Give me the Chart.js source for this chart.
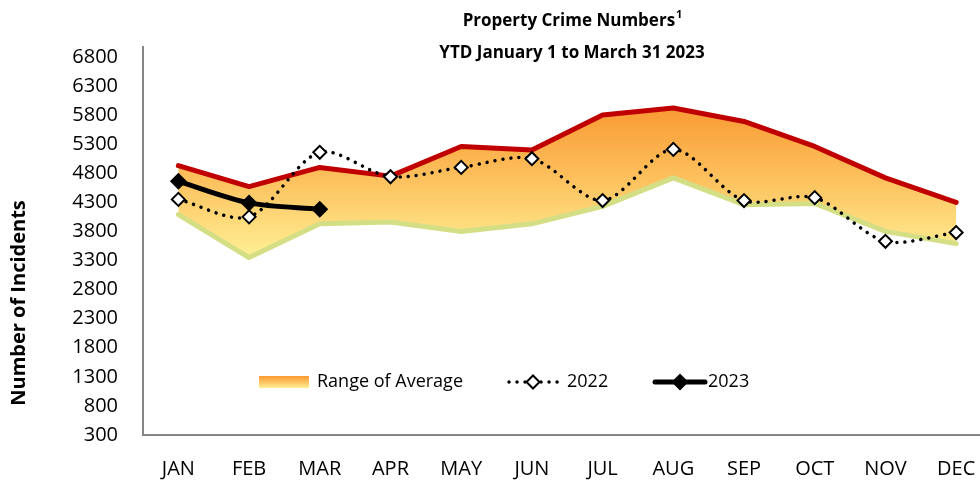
<!DOCTYPE html>
<html>
<head>
<meta charset="utf-8">
<script src="https://cdn.jsdelivr.net/npm/chart.js@4.4.1/dist/chart.umd.min.js"></script>
<style>
  html, body { margin: 0; padding: 0; background: #fff; overflow: hidden; }
  #wrap { position: relative; width: 1000px; height: 481px; }
</style>
</head>
<body>
<div id="wrap"><canvas id="crime-chart"></canvas></div>
<script>
// values
const months = ["JAN", "FEB", "MAR", "APR", "MAY", "JUN", "JUL", "AUG", "SEP", "OCT", "NOV", "DEC"];
const rangeUpper = [4930, 4570, 4900, 4750, 5260, 5200, 5800, 5920, 5690, 5260, 4720, 4300];
const rangeLower = [4090, 3350, 3930, 3960, 3800, 3930, 4230, 4720, 4260, 4280, 3800, 3590];
const year2022 = [4350, 4050, 5160, 4740, 4900, 5050, 4330, 5210, 4330, 4380, 3630, 3780];
const year2023 = [4660, 4290, 4180];
const yTicks = [300, 800, 1300, 1800, 2300, 2800, 3300, 3800, 4300, 4800, 5300, 5800, 6300, 6800];
const yMin = 300;
const yMax = 6970;

const titleLines = ["Property Crime Numbers", "YTD January 1 to March 31 2023"];
const titleSup = "1";
const yTitle = "Number of Incidents";
const legendLabels = ["Range of Average", "2022", "2023"];

const FONT = '"Open Sans", "Noto Sans", sans-serif';

function bandGradient(ctx, top, bottom) {
    const g = ctx.createLinearGradient(0, top, 0, bottom);
    g.addColorStop(0, "#F99A33");
    g.addColorStop(0.5, "#FDC360");
    g.addColorStop(1, "#FFF095");
    return g;
}

// title + y axis title drawn by hand so they sit where the original has them
const titlePlugin = {
    id: "crimeTitle",
    afterDraw(chart) {
        const ctx = chart.ctx;
        const cx = 572;
        ctx.save();
        ctx.fillStyle = "#000";
        ctx.textBaseline = "middle";
        ctx.font = "bold 17px " + FONT;
        const w1 = ctx.measureText(titleLines[0]).width;
        ctx.font = "bold 11px " + FONT;
        const ws = ctx.measureText(titleSup).width;
        let x = cx - (w1 + ws) / 2;
        ctx.textAlign = "left";
        ctx.font = "bold 17px " + FONT;
        ctx.fillText(titleLines[0], x, 21);
        ctx.font = "bold 11px " + FONT;
        ctx.fillText(titleSup, x + w1 + 1, 15);
        ctx.font = "bold 17px " + FONT;
        ctx.textAlign = "center";
        ctx.fillText(titleLines[1], cx, 53);

        // rotated axis title
        ctx.translate(19, 303);
        ctx.rotate(-Math.PI / 2);
        ctx.font = "bold 20px " + FONT;
        ctx.fillText(yTitle, 0, 0);
        ctx.restore();
    },
};

// legend sits inside the plot near the bottom
const legendPlugin = {
    id: "crimeLegend",
    afterDraw(chart) {
        const ctx = chart.ctx;
        const y = 382;
        ctx.save();
        ctx.font = "18px " + FONT;
        ctx.fillStyle = "#000";
        ctx.textBaseline = "middle";
        ctx.textAlign = "left";

        // range swatch
        ctx.fillStyle = bandGradient(ctx, y - 6, y + 6);
        ctx.fillRect(259, y - 6, 50, 12);
        ctx.fillStyle = "#000";
        ctx.fillText(legendLabels[0], 317, y);

        // 2022 dotted with open diamond
        ctx.strokeStyle = "#000";
        ctx.lineWidth = 3.5;
        ctx.lineCap = "round";
        ctx.setLineDash([0.01, 8]);
        ctx.beginPath();
        ctx.moveTo(509, y);
        ctx.lineTo(559, y);
        ctx.stroke();
        ctx.setLineDash([]);
        ctx.fillStyle = "#fff";
        ctx.lineWidth = 2;
        ctx.beginPath();
        ctx.moveTo(533, y - 6.5); ctx.lineTo(539.5, y); ctx.lineTo(533, y + 6.5); ctx.lineTo(526.5, y); ctx.closePath();
        ctx.fill();
        ctx.stroke();
        ctx.fillStyle = "#000";
        ctx.fillText(legendLabels[1], 567, y);

        // 2023 solid with filled diamond
        ctx.lineWidth = 5;
        ctx.beginPath();
        ctx.moveTo(655, y);
        ctx.lineTo(705, y);
        ctx.stroke();
        ctx.beginPath();
        ctx.moveTo(680, y - 8.5); ctx.lineTo(688.5, y); ctx.lineTo(680, y + 8.5); ctx.lineTo(671.5, y); ctx.closePath();
        ctx.fill();
        ctx.fillText(legendLabels[2], 708, y);
        ctx.restore();
    },
};

const chartCanvas = document.getElementById("crime-chart");

const crimeChart = new Chart(chartCanvas, {
    type: "line",
    data: {
        labels: months,
        datasets: [
            {
                label: "Range upper",
                data: rangeUpper,
                borderColor: "#C00000",
                borderWidth: 5,
                borderCapStyle: "round",
                borderJoinStyle: "round",
                pointRadius: 0,
                tension: 0,
                fill: "+1",
                backgroundColor: (c) => {
                    const chart = c.chart;
                    if (!chart.chartArea) return "rgba(0,0,0,0)";
                    const ys = chart.scales.y;
                    return bandGradient(
                        chart.ctx,
                        ys.getPixelForValue(Math.max(...rangeUpper)),
                        ys.getPixelForValue(Math.min(...rangeLower))
                    );
                },
                order: 4,
            },
            {
                label: "Range lower",
                data: rangeLower,
                borderColor: "#D4DE85",
                borderWidth: 5,
                borderCapStyle: "round",
                borderJoinStyle: "round",
                pointRadius: 0,
                tension: 0,
                fill: false,
                order: 3,
            },
            {
                label: "2022",
                data: year2022,
                borderColor: "#000",
                borderWidth: 3.5,
                borderDash: [0.01, 8],
                borderCapStyle: "round",
                tension: 0.3,
                fill: false,
                pointStyle: "rectRot",
                pointRadius: 6.5,
                pointBorderWidth: 2,
                pointBackgroundColor: "#fff",
                pointBorderColor: "#000",
                order: 2,
            },
            {
                label: "2023",
                data: year2023,
                borderColor: "#000",
                borderWidth: 5,
                borderCapStyle: "round",
                tension: 0.3,
                fill: false,
                pointStyle: "rectRot",
                pointRadius: 8.5,
                pointBorderWidth: 0,
                pointBackgroundColor: "#000",
                order: 1,
            },
        ],
    },
    options: {
        responsive: true,
        maintainAspectRatio: false,
        animation: false,
        layout: {
            padding: { top: 47, right: 7, bottom: 0, left: 0 },
        },
        scales: {
            x: {
                type: "category",
                offset: true,
                grid: { display: false, drawTicks: false },
                border: { display: true, color: "#868686", width: 2 },
                afterFit: (scale) => {
                    scale.height = 46;
                },
                ticks: {
                    color: "#000",
                    padding: 22,
                    maxRotation: 0,
                    autoSkip: false,
                    font: { family: FONT, size: 20 },
                },
            },
            y: {
                min: yMin,
                max: yMax,
                grid: { display: false, drawTicks: false },
                border: { display: true, color: "#868686", width: 2 },
                afterBuildTicks: (scale) => {
                    scale.ticks = yTicks.map((v) => ({ value: v }));
                },
                afterFit: (scale) => {
                    scale.width = 143;
                },
                ticks: {
                    color: "#000",
                    padding: 25,
                    font: { family: FONT, size: 20 },
                    callback: (value) => String(value),
                },
            },
        },
        plugins: {
            legend: { display: false },
            title: { display: false },
            tooltip: { enabled: false },
        },
    },
    plugins: [titlePlugin, legendPlugin],
});
</script>
</body>
</html>
